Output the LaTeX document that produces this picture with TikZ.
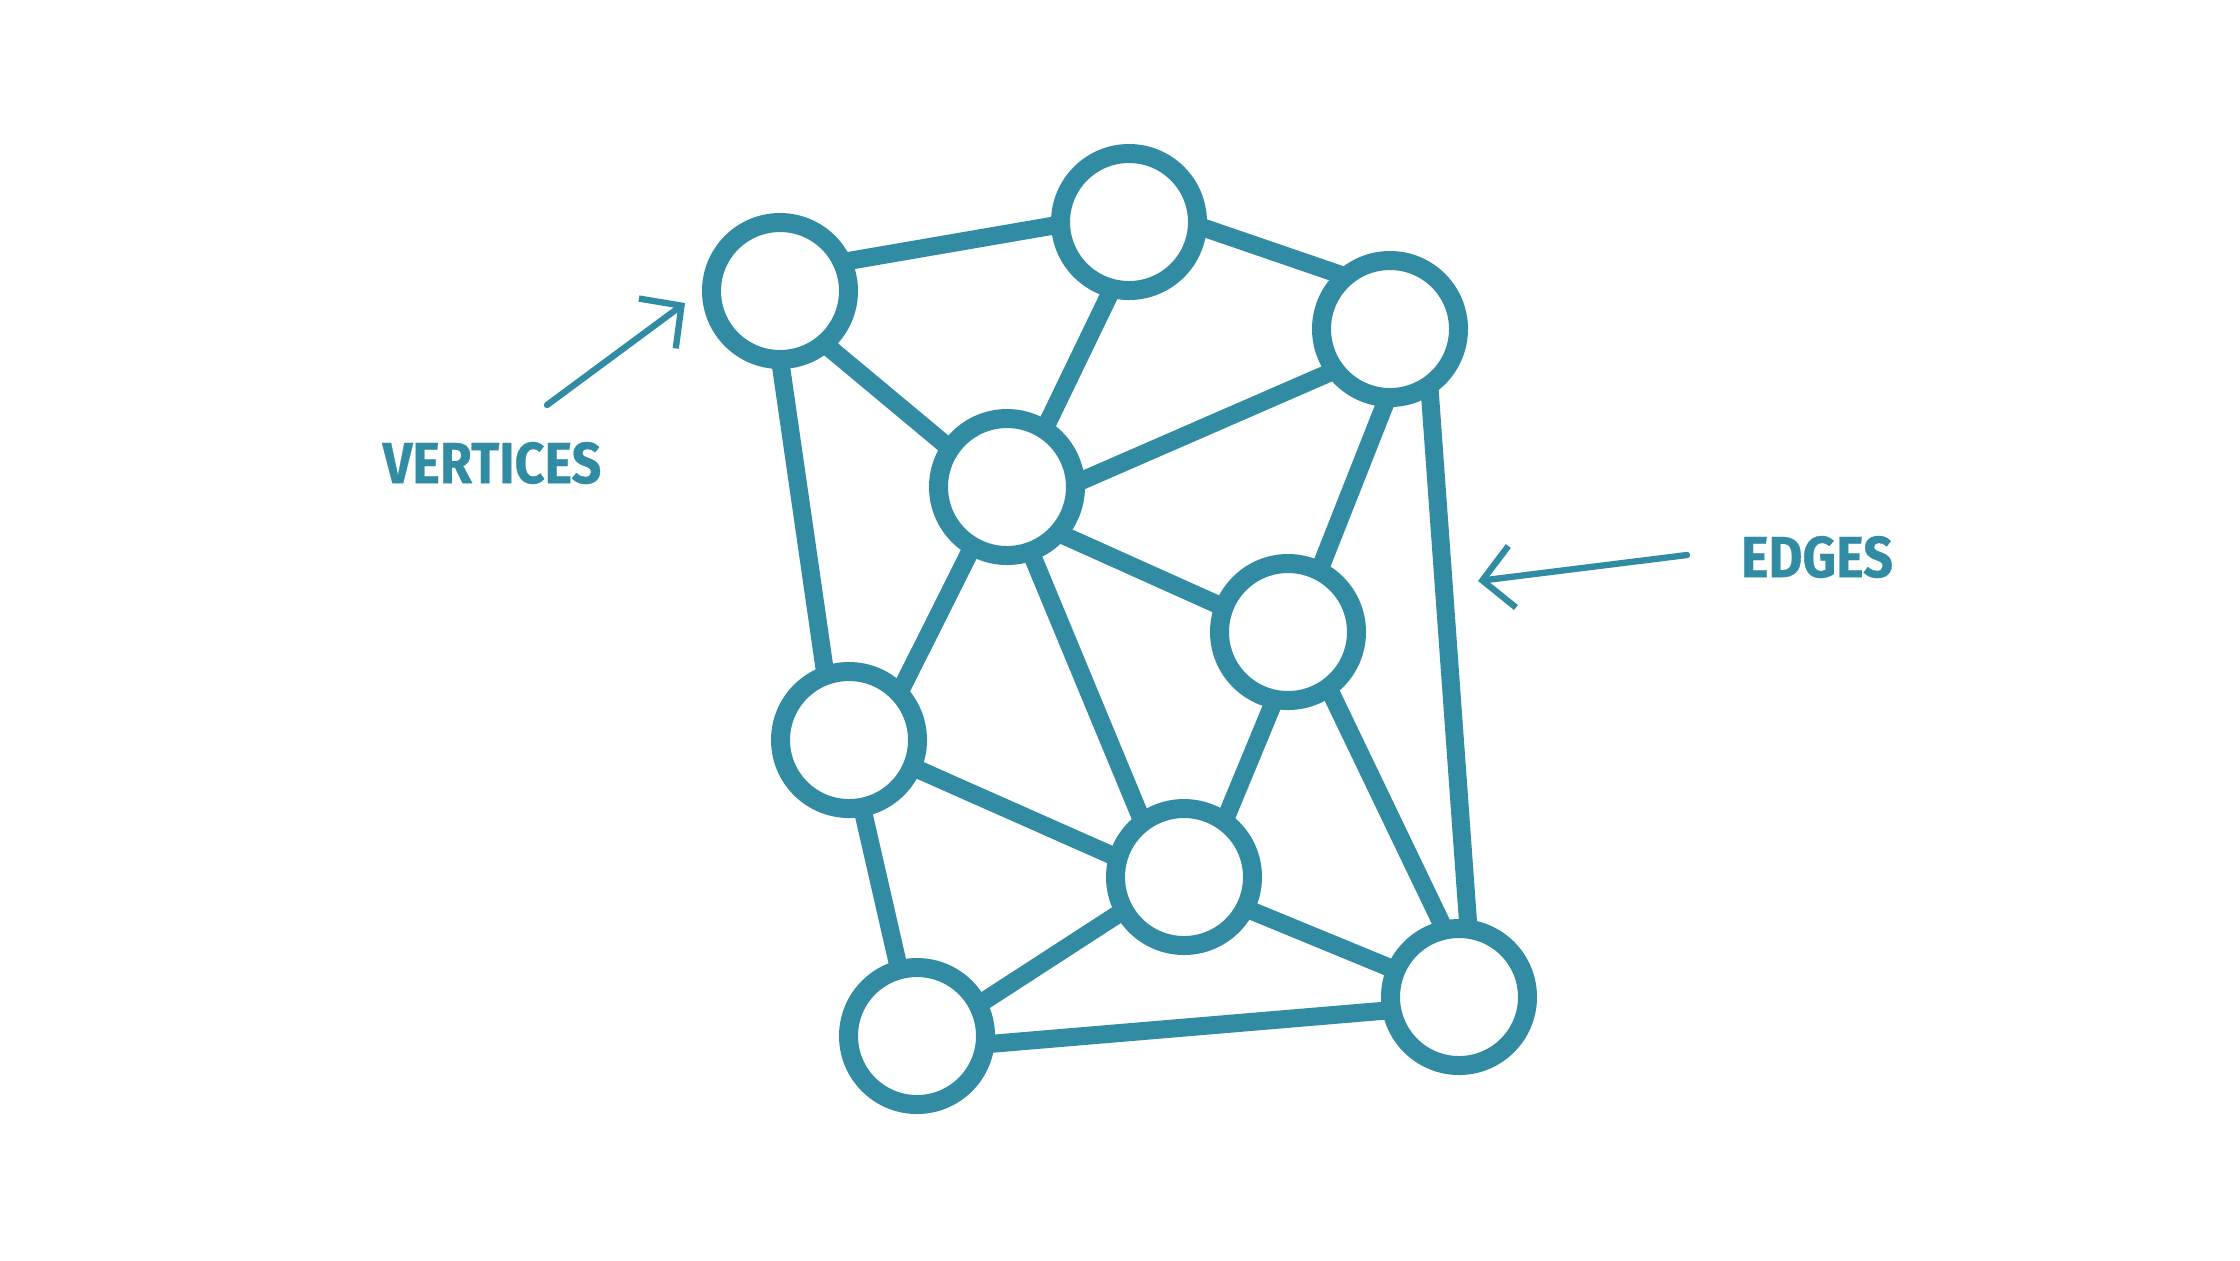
\documentclass[tikz,border=0pt]{standalone}
\usepackage{fontspec}
\setmainfont{Fira Sans}[BoldFeatures={FakeBold=0.5}]
\usetikzlibrary{arrows.meta,positioning}
\definecolor{grafoazul}{RGB}{49,140,163}

\begin{document}
\begin{tikzpicture}
  \tikzstyle{vertice}=[circle, draw=grafoazul, fill=white, line width=0.19cm, minimum size=1.37cm, inner sep=0pt, outer sep=0pt]
  \tikzstyle{arista}=[-, draw=grafoazul, line width=0.18cm]
  \tikzstyle{flecha}=[draw=grafoazul, line width=1.8pt, line cap=round, -{Straight Barb[length=0.3cm, width=0.62cm, line width=1.8pt]}]
  \tikzstyle{rotulo}=[text=grafoazul, font=\bfseries\fontsize{16.5}{18}\selectfont, xscale=0.9, inner sep=0pt]

  \useasboundingbox (0,0) rectangle (22.4,-12.6);

  % Vertices
  \node[vertice] (a) at (7.80,-2.91) {};
  \node[vertice] (b) at (11.29,-2.22) {};
  \node[vertice] (c) at (13.90,-3.29) {};
  \node[vertice] (d) at (10.07,-4.87) {};
  \node[vertice] (e) at (12.88,-6.32) {};
  \node[vertice] (f) at (8.49,-7.40) {};
  \node[vertice] (g) at (11.84,-8.77) {};
  \node[vertice] (h) at (9.17,-10.36) {};
  \node[vertice] (i) at (14.59,-9.97) {};

  % Aristas
  \draw[arista] (a.25) -- (b.182);
  \draw[arista] (b.357) -- (c.130);
  \draw[arista] (a.310) -- (d.146);
  \draw[arista] (b.256) -- (d.57);
  \draw[arista] (d.3) -- (c.217);
  \draw[arista] (a.270) -- (f.110);
  \draw[arista] (d.240) -- (f.43);
  \draw[arista] (d.318) -- (e.159);
  \draw[arista] (c.268) -- (e.63);
  \draw[arista] (c.305) -- (i.82);
  \draw[arista] (d.290) -- (g.127);
  \draw[arista] (f.337) -- (g.164);
  \draw[arista] (e.259) -- (g.54);
  \draw[arista] (e.306) -- (i.102);
  \draw[arista] (f.281) -- (h.105);
  \draw[arista] (g.209) -- (h.27);
  \draw[arista] (g.333) -- (i.157);
  \draw[arista] (h.353) -- (i.191);

  % Rotulos
  \node[rotulo] (vert) at (4.92,-4.63) {VERTICES};
  \node[rotulo] (edg) at (18.17,-5.57) {EDGES};

  % Flechas
  \coordinate (vcola) at (5.47,-4.05);
  \coordinate (vpunta) at (6.85,-3.03);
  \coordinate (ecola) at (16.87,-5.55);
  \coordinate (epunta) at (14.78,-5.81);
  \draw[flecha] (vcola) -- (vpunta);
  \draw[flecha] (ecola) -- (epunta);
\end{tikzpicture}
\end{document}
